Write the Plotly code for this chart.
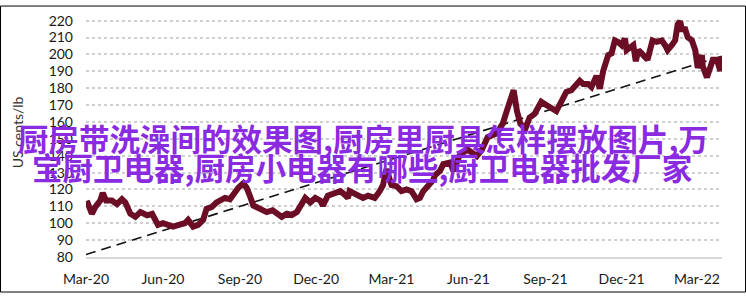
import plotly.graph_objects as go

# ---- data ----
dates = [
    "2020-03-02", "2020-03-08", "2020-03-12", "2020-03-18", "2020-03-21", "2020-03-25",
    "2020-04-01", "2020-04-07", "2020-04-13", "2020-04-17", "2020-04-23", "2020-04-29",
    "2020-05-05", "2020-05-13", "2020-05-19", "2020-05-26", "2020-06-01", "2020-06-07",
    "2020-06-13", "2020-06-21", "2020-06-27", "2020-07-01", "2020-07-07", "2020-07-13",
    "2020-07-19", "2020-07-23", "2020-07-29", "2020-08-04", "2020-08-08", "2020-08-14",
    "2020-08-20", "2020-08-24", "2020-08-30", "2020-09-05", "2020-09-09", "2020-09-13",
    "2020-09-17", "2020-09-25", "2020-10-03", "2020-10-10", "2020-10-21", "2020-10-27",
    "2020-11-02", "2020-11-08", "2020-11-14", "2020-11-18", "2020-11-24", "2020-11-30",
    "2020-12-06", "2020-12-09", "2020-12-15", "2020-12-24", "2020-12-30", "2021-01-04",
    "2021-01-08", "2021-01-10", "2021-01-19", "2021-01-26", "2021-02-01", "2021-02-09",
    "2021-02-15", "2021-02-19", "2021-02-23", "2021-02-26", "2021-03-01", "2021-03-07",
    "2021-03-13", "2021-03-19", "2021-03-25", "2021-03-31", "2021-04-04", "2021-04-08",
    "2021-04-14", "2021-04-20", "2021-04-22", "2021-04-28", "2021-05-02", "2021-05-10",
    "2021-05-14", "2021-05-22", "2021-05-31", "2021-06-11", "2021-06-17", "2021-06-24",
    "2021-07-05", "2021-07-12", "2021-07-18", "2021-07-23", "2021-07-25", "2021-07-29",
    "2021-08-02", "2021-08-08", "2021-08-13", "2021-08-19", "2021-08-27", "2021-09-02",
    "2021-09-08", "2021-09-14", "2021-09-20", "2021-09-26", "2021-10-02", "2021-10-08",
    "2021-10-12", "2021-10-16", "2021-10-22", "2021-10-26", "2021-11-01", "2021-11-05",
    "2021-11-09", "2021-11-15", "2021-11-19", "2021-11-23", "2021-11-27", "2021-12-01",
    "2021-12-05", "2021-12-07", "2021-12-11", "2021-12-15", "2021-12-18", "2021-12-21",
    "2021-12-25", "2021-12-29", "2022-01-01", "2022-01-04", "2022-01-07", "2022-01-12",
    "2022-01-18", "2022-01-22", "2022-01-25", "2022-01-30", "2022-02-03", "2022-02-06",
    "2022-02-09", "2022-02-11", "2022-02-15", "2022-02-18", "2022-02-23", "2022-02-27",
    "2022-03-01", "2022-03-02", "2022-03-07", "2022-03-08", "2022-03-13", "2022-03-17",
    "2022-03-20", "2022-03-25", "2022-03-29", "2022-03-31",
]
prices = [
    113.3, 105.6, 109.5, 113.4, 118.0, 113.4,
    113.4, 111.3, 114.2, 112.3, 105.6, 103.8,
    106.6, 104.7, 105.6, 99.0, 100.0, 99.2,
    98.0, 99.2, 100.0, 102.0, 98.0, 99.0,
    102.0, 108.5, 109.5, 112.3, 113.4, 115.0,
    114.2, 117.0, 121.0, 123.7, 121.0, 116.0,
    110.5, 108.5, 106.6, 107.7, 103.8, 105.6,
    104.9, 106.6, 111.3, 115.0, 112.3, 115.0,
    113.4, 110.5, 116.3, 118.0, 119.0, 117.0,
    115.0, 119.0, 117.0, 115.0, 116.3, 115.0,
    119.0, 122.7, 132.0, 126.0, 122.7, 122.0,
    119.0, 120.0, 119.0, 114.2, 115.0, 119.0,
    122.7, 125.6, 128.4, 131.0, 135.0, 136.0,
    131.0, 140.8, 143.6, 139.8, 143.6, 151.0,
    153.3, 159.0, 168.3, 177.8, 178.8, 166.4,
    159.0, 156.0, 162.6, 164.7, 172.0, 170.0,
    168.3, 166.4, 172.0, 177.8, 178.8, 182.5,
    184.4, 182.5, 182.5, 180.7, 187.3, 179.7,
    190.2, 199.6, 200.6, 208.3, 207.4, 205.5,
    209.3, 202.6, 204.5, 205.5, 196.0, 202.6,
    200.6, 197.8, 196.8, 202.6, 208.3, 207.4,
    208.3, 205.5, 202.6, 205.5, 208.3, 217.7,
    219.6, 214.9, 214.9, 210.2, 208.3, 202.6,
    196.8, 192.1, 199.6, 193.0, 186.4, 191.1,
    196.8, 196.8, 190.2, 198.8,
]
trend_dates = ["2020-03-01", "2022-03-31"]
trend_values = [81.5, 199.0]

tick_dates = ["2020-03-01", "2020-06-01", "2020-09-01", "2020-12-01", "2021-03-01",
              "2021-06-01", "2021-09-01", "2021-12-01", "2022-03-01"]
tick_labels = ["Mar-20", "Jun-20", "Sep-20", "Dec-20", "Mar-21",
               "Jun-21", "Sep-21", "Dec-21", "Mar-22"]
y_ticks = [80, 90, 100, 110, 120, 130, 140, 150, 160, 170, 180, 190, 200, 210, 220]

overlay_line1 = "厨房带洗澡间的效果图,厨房里厨具怎样摆放图片,万"
overlay_line2 = "宝厨卫电器,厨房小电器有哪些,厨卫电器批发厂家"

# ---- layout geometry ----
W, H = 746, 299
L, R, T, B = 86, 24, 14, 37
PW, PH = W - L - R, H - T - B


def px_x(x):
    return (x - L) / PW


def px_y(y):
    return (H - B - y) / PH


fig = go.Figure()
fig.add_trace(go.Scatter(
    x=trend_dates, y=trend_values, mode="lines",
    line=dict(color="#111111", width=1.6, dash="10px,6px"),
    hoverinfo="skip", showlegend=False,
))
fig.add_trace(go.Scatter(
    x=dates, y=prices, mode="lines",
    line=dict(color="#6a0d25", width=6),
    showlegend=False,
))

tick_font = dict(family="Lato, Calibri, sans-serif", size=14, color="#1a1a1a")
overlay_font = dict(family="Noto Sans CJK SC", size=30.5, color="#8a2be2", weight="bold")

fig.update_layout(
    width=W, height=H,
    margin=dict(l=L, r=R, t=T, b=B),
    paper_bgcolor="white", plot_bgcolor="white",
    xaxis=dict(
        range=["2020-03-01", "2022-03-31"],
        tickvals=tick_dates, ticktext=tick_labels,
        showgrid=False, zeroline=False,
        showline=True, linecolor="#d9d9d9", linewidth=2,
        ticks="", ticklabelstandoff=8,
        tickfont=tick_font,
    ),
    yaxis=dict(
        range=[80, 221],
        tickvals=y_ticks,
        showgrid=True, gridcolor="#cfcfcf", gridwidth=2, griddash="dot",
        zeroline=False, showline=False,
        ticks="", ticklabelstandoff=12,
        tickfont=tick_font,
    ),
    annotations=[
        dict(text="US cents/lb", textangle=-90, xref="paper", yref="paper",
             x=px_x(17), y=px_y(132), xanchor="center", yanchor="middle",
             showarrow=False,
             font=dict(family="Lato, Calibri, sans-serif", size=14, color="#333333")),
        dict(text=overlay_line1, xref="paper", yref="paper",
             x=px_x(16), y=px_y(138), xanchor="left", yanchor="middle",
             showarrow=False, font=overlay_font),
        dict(text=overlay_line2, xref="paper", yref="paper",
             x=px_x(30), y=px_y(168), xanchor="left", yanchor="middle",
             showarrow=False, font=overlay_font),
    ],
    shapes=[
        dict(type="rect", xref="paper", yref="paper",
             x0=px_x(0.5), x1=px_x(W - 0.5), y0=px_y(H - 0.5), y1=px_y(0.5),
             line=dict(color="black", width=1), fillcolor="rgba(0,0,0,0)", layer="above"),
    ],
)

fig.write_html("out.html")
